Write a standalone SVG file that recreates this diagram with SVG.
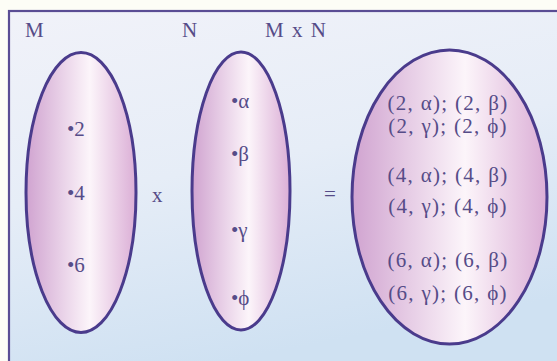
<svg xmlns="http://www.w3.org/2000/svg" width="557" height="361" viewBox="0 0 557 361">
<defs>
<linearGradient id="bg" x1="0" y1="0" x2="0.3" y2="1">
<stop offset="0" stop-color="#f1f2f9"/>
<stop offset="0.5" stop-color="#e6edf7"/>
<stop offset="1" stop-color="#cfe1f2"/>
</linearGradient>
<linearGradient id="egg" x1="0" y1="0" x2="1" y2="0">
<stop offset="0" stop-color="#d0a3d0"/>
<stop offset="0.58" stop-color="#fcf5fa"/>
<stop offset="1" stop-color="#dbaed6"/>
</linearGradient>
<style>
.t{font-family:"Liberation Serif","DejaVu Serif",serif;font-size:21px;fill:#564c88}
.p{letter-spacing:1.3px;text-anchor:middle}
.e{fill:url(#egg);stroke:#4a3b8c;stroke-width:3}
</style>
</defs>
<rect x="0" y="0" width="557" height="361" fill="#fdfdf6"/>
<rect x="9" y="11" width="560" height="360" fill="url(#bg)" stroke="#5a4d94" stroke-width="2.2"/>
<g id="labels">
<text class="t" x="25" y="37">M</text>
<text class="t" x="182" y="37">N</text>
<text class="t" x="265" y="37" word-spacing="3">M x N</text>
<text class="t" x="152" y="202">x</text>
<text class="t" x="324" y="201">=</text>
</g>
<g id="setM">
<ellipse class="e" cx="81" cy="192.5" rx="55" ry="140"/>
<text class="t" x="67" y="136">•2</text>
<text class="t" x="67" y="200">•4</text>
<text class="t" x="67" y="272">•6</text>
</g>
<g id="setN">
<ellipse class="e" cx="241" cy="191" rx="49" ry="139"/>
<text class="t" x="231" y="108">•α</text>
<text class="t" x="231" y="161">•β</text>
<text class="t" x="231" y="237">•γ</text>
<text class="t" x="231" y="305">•ϕ</text>
</g>
<g id="setMxN">
<ellipse class="e" cx="449.5" cy="197" rx="97.5" ry="147"/>
<text class="t p" x="448" y="110">(2, α); (2, β)</text>
<text class="t p" x="448" y="133">(2, γ); (2, ϕ)</text>
<text class="t p" x="448" y="182">(4, α); (4, β)</text>
<text class="t p" x="448" y="213">(4, γ); (4, ϕ)</text>
<text class="t p" x="448" y="267">(6, α); (6, β)</text>
<text class="t p" x="448" y="300">(6, γ); (6, ϕ)</text>
</g>
<g id="connectors"/>
</svg>
